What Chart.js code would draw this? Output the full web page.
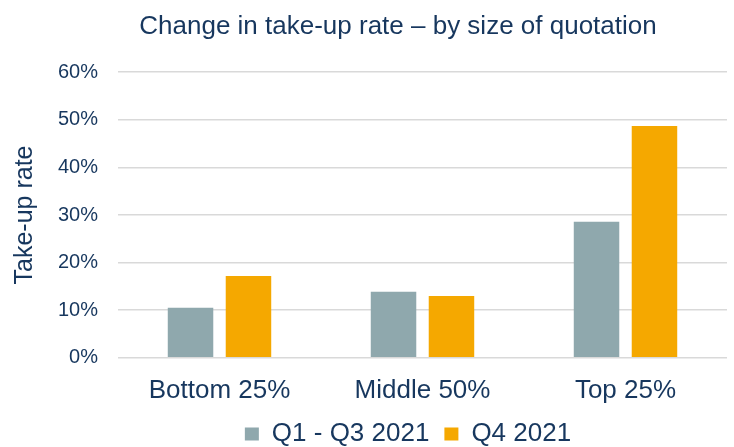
<!DOCTYPE html>
<html>
<head>
<meta charset="utf-8">
<script src="https://cdn.jsdelivr.net/npm/chart.js@4"></script>
<style>
  html, body { margin: 0; padding: 0; background: #ffffff; }
  #wrap { width: 734px; height: 447px; }
</style>
</head>
<body>
<div id="wrap"><canvas id="c" width="734" height="447"></canvas></div>
<script>
const categories = ["Bottom 25%", "Middle 50%", "Top 25%"];
const seriesNames = ["Q1 - Q3 2021", "Q4 2021"];
const q1q3Values = [10.5, 13.9, 28.6];
const q4Values = [17.2, 13.0, 48.7];
const yTickStep = 10;
const yMax = 60;

const navy = "#17375E";
const FONT = "'Liberation Sans', Arial, sans-serif";

const shiftPlugin = {
  id: "shiftBoxes",
  afterLayout(chart) {
    const w = chart.width;
    const t = chart.titleBlock;
    if (t) {
      const tw = t.right - t.left;
      const c = w / 2 + 31;
      t.left = c - tw / 2; t.right = c + tw / 2;
    }
    const l = chart.legend;
    if (l) {
      const lw = l.right - l.left;
      const c = w / 2 + 41;
      l.left = c - lw / 2; l.right = c + lw / 2;
      l.top -= 17; l.bottom -= 17;
    }
  }
};

new Chart(document.getElementById("c"), {
  type: "bar",
  data: {
    labels: categories,
    datasets: [
      { label: seriesNames[0], data: q1q3Values, backgroundColor: "#8FA8AD" },
      { label: seriesNames[1], data: q4Values, backgroundColor: "#F5A800" }
    ]
  },
  plugins: [shiftPlugin],
  options: {
    responsive: false,
    animation: false,
    devicePixelRatio: 1,
    layout: { padding: { left: 0, right: 7, top: 0, bottom: -27 } },
    datasets: { bar: { categoryPercentage: 0.571, barPercentage: 0.785 } },
    plugins: {
      title: {
        display: true,
        text: "Change in take-up rate \u2013 by size of quotation",
        color: navy,
        font: { family: FONT, size: 26, weight: "normal" },
        padding: { top: 11, bottom: 30 }
      },
      legend: {
        display: true,
        position: "bottom",
        labels: {
          color: navy,
          font: { family: FONT, size: 26 },
          boxWidth: 14,
          boxHeight: 13,
          padding: 15
        }
      },
      tooltip: { enabled: false }
    },
    scales: {
      x: {
        grid: { display: false, drawTicks: false },
        border: { display: false },
        ticks: { color: navy, font: { family: FONT, size: 26 }, padding: 17, maxRotation: 0 }
      },
      y: {
        min: 0,
        max: yMax,
        grid: { color: "#d9d9d9", lineWidth: 1.5, drawTicks: false },
        border: { display: false },
        ticks: {
          stepSize: yTickStep,
          color: navy,
          font: { family: FONT, size: 20 },
          padding: 20,
          callback: v => v + "%"
        },
        title: {
          display: true,
          text: "Take-up rate",
          color: navy,
          font: { family: FONT, size: 25 },
          padding: { top: 10, bottom: 0 }
        },
        afterFit(scale) { scale.width = 118; }
      }
    }
  }
});
</script>
</body>
</html>
